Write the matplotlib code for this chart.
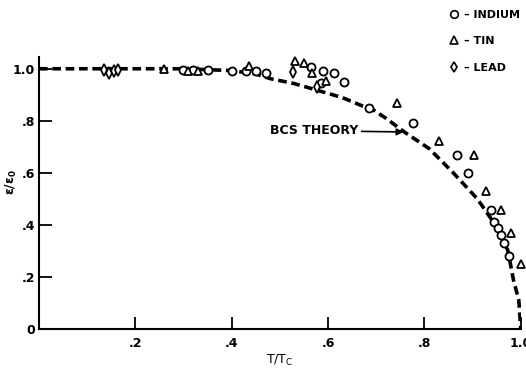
import matplotlib.pyplot as plt
from matplotlib.lines import Line2D

# BCS theory curve
bcs_t = [0.0, 0.30, 0.40, 0.45, 0.48, 0.53, 0.58, 0.63, 0.67, 0.69, 0.72, 0.76, 0.81, 0.86, 0.91, 0.945, 0.973, 0.985, 0.996, 1.0]
bcs_e = [1.0, 1.0, 0.993, 0.98, 0.962, 0.943, 0.916, 0.889, 0.858, 0.847, 0.81, 0.755, 0.693, 0.60, 0.50, 0.406, 0.303, 0.188, 0.11, 0.0]

# measured points
indium_t = [0.30, 0.32, 0.35, 0.40, 0.43, 0.45, 0.471, 0.564, 0.585, 0.589, 0.612, 0.633, 0.685,
            0.776, 0.867, 0.890, 0.938, 0.944, 0.952, 0.960, 0.965, 0.975]
indium_e = [0.995, 0.995, 0.995, 0.992, 0.99, 0.99, 0.985, 1.008, 0.945, 0.992, 0.985, 0.95, 0.85,
            0.793, 0.67, 0.60, 0.456, 0.41, 0.387, 0.36, 0.33, 0.28]
tin_t = [0.26, 0.31, 0.33, 0.436, 0.531, 0.55, 0.566, 0.595, 0.743, 0.830, 0.902, 0.927, 0.96, 0.979, 1.0]
tin_e = [1.0, 0.99, 0.99, 1.01, 1.03, 1.023, 0.985, 0.954, 0.87, 0.724, 0.667, 0.532, 0.456, 0.368, 0.25]
lead_t = [0.135, 0.145, 0.155, 0.165, 0.527, 0.578]
lead_e = [0.995, 0.985, 0.99, 0.995, 0.988, 0.93]

xticks = [0.2, 0.4, 0.6, 0.8, 1.0]
xlabels = ['.2', '.4', '.6', '.8', '1.0']
yticks = [0.0, 0.2, 0.4, 0.6, 0.8, 1.0]
ylabels = ['0', '.2', '.4', '.6', '.8', '1.0']

plt.rcParams['font.family'] = ['Liberation Sans Narrow', 'DejaVu Sans']
plt.rcParams['font.weight'] = 'bold'

fig = plt.figure(figsize=(5.26, 3.68), dpi=100)
ax = fig.add_axes([0.074, 0.106, 0.916, 0.739])

ax.plot(bcs_t, bcs_e, color='black', lw=2.6, ls=(0, (2.4, 1.3)), zorder=2)

mk = dict(ls='none', mfc='white', mec='black', mew=1.3, clip_on=False, zorder=3)
ax.plot(indium_t, indium_e, marker='o', ms=5.8, **mk)
ax.plot(tin_t, tin_e, marker='^', ms=5.8, **mk)
ax.plot(lead_t, lead_e, marker='d', ms=5.8, **mk)

ax.annotate('BCS THEORY', xy=(0.757, 0.757), xytext=(0.664, 0.762),
            ha='right', va='center', fontsize=9,
            arrowprops=dict(arrowstyle='-|>', color='black', lw=1.2, mutation_scale=10,
                            shrinkA=0, shrinkB=0))

ax.set_xlim(0, 1.0)
ax.set_ylim(0, 1.045)
ax.set_xticks(xticks)
ax.set_xticklabels(xlabels)
ax.set_yticks(yticks)
ax.set_yticklabels(ylabels)
ax.tick_params(direction='in', length=9, width=1.3, labelsize=9, pad=3)
ax.tick_params(axis='x', pad=6)
for s in ['top', 'right']:
    ax.spines[s].set_visible(False)
for s in ['left', 'bottom']:
    ax.spines[s].set_linewidth(1.5)

ax.set_xlabel('T/T$_\\mathregular{C}$', fontsize=9, labelpad=2)
fig.text(11 / 526, 0.505, '\u03b5/\u03b5$_\\mathregular{0}$', fontsize=9,
         rotation=90, ha='center', va='center')

handles = [Line2D([], [], marker=m, ls='none', mfc='white', mec='black', mew=1.2, ms=5.5)
           for m in ['o', '^', 'd']]
fig.legend(handles, ['\u2013 INDIUM', '\u2013 TIN', '\u2013 LEAD'], loc='upper left',
           bbox_to_anchor=(0.84, 0.995), frameon=False, fontsize=8, handlelength=0.8,
           handletextpad=0.5, labelspacing=1.5, borderaxespad=0.3)

fig.savefig('out.png', dpi=100)
